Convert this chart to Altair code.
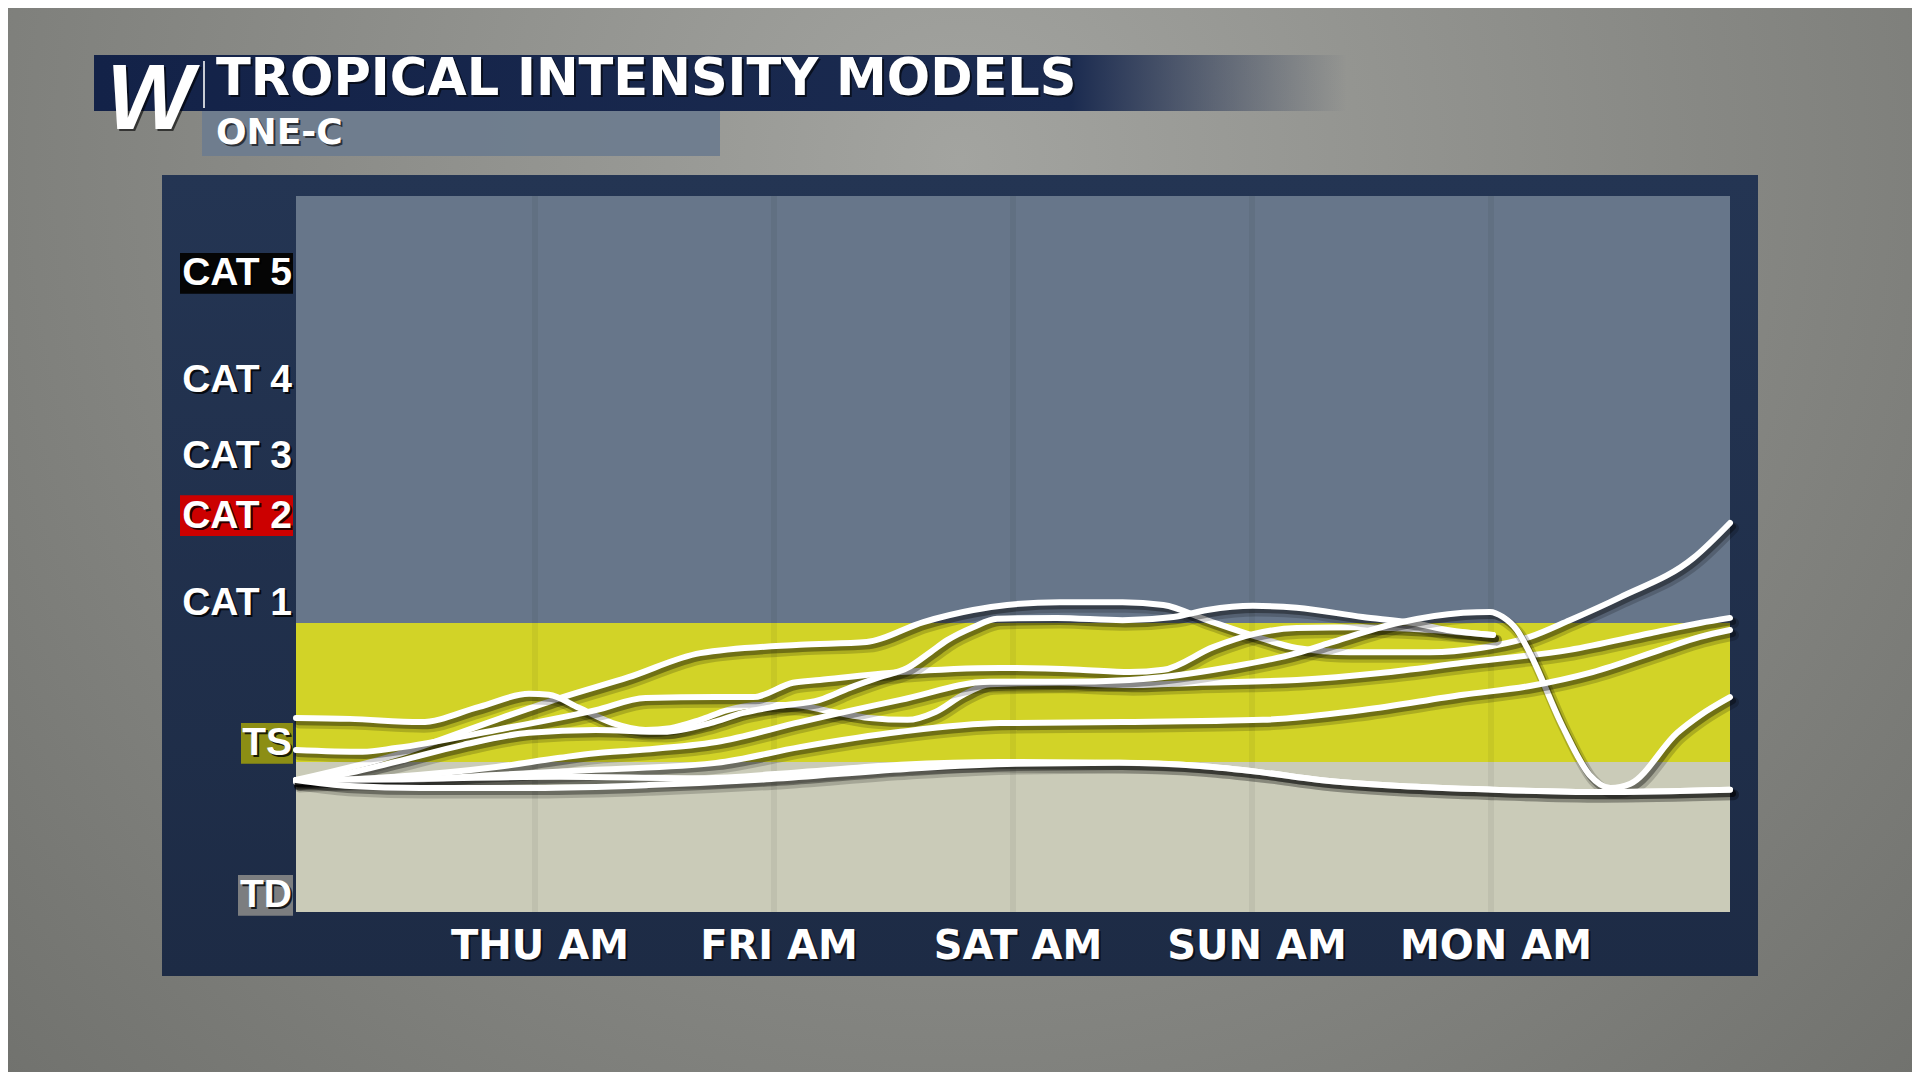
import altair as alt
import pandas as pd

# ---------------- data ----------------
DAY_HOURS = [24, 48, 72, 96, 120]
DAY_LABELS = ["THU AM", "FRI AM", "SAT AM", "SUN AM", "MON AM"]

CAT_LABELS = ["CAT 5", "CAT 4", "CAT 3", "CAT 2", "CAT 1", "TS", "TD"]
CAT_LABEL_KT = [139.5, 116.5, 100.0, 87.2, 68.3, 38.0, 5.2]

BAND_NAMES = ["Hurricane", "Tropical Storm", "Tropical Depression"]
BAND_LOW = [64, 34, 1.6]
BAND_HIGH = [156.2, 64, 34]

M1_H = [0, 10, 20.1, 26.8, 33.4, 40.6, 50.6, 57.3, 63.0, 68.0, 71.4, 76.7, 83.0, 87.1, 91.5, 96.5,
        100.5, 105.8, 113.9, 118.9, 123.9, 127.9, 133.0, 140.3, 144]
M1_KT = [30.1, 35.5, 43.1, 48.0, 52.3, 57.5, 59.3, 59.9, 64.2, 66.8, 67.9, 68.5, 68.5, 67.9, 64.6, 61.0,
         58.6, 57.7, 57.7, 58.6, 61.0, 64.6, 69.6, 78.0, 85.6]

M2_H = [0, 5.4, 12.5, 18.4, 23.4, 25.4, 28.4, 31.8, 35.1, 37.6, 40.6, 43.3, 46.6, 49.9, 53.9, 57.6,
        61.4, 64.2, 67.0, 69.7, 76.7, 83.7, 90.8, 100.5, 108.9, 117.2, 127.9, 136.0, 141.0, 144]
M2_KT = [43.5, 43.3, 42.6, 45.9, 48.7, 48.5, 45.7, 42.4, 40.9, 41.3, 43.1, 45.2, 46.3, 46.3, 44.8, 43.5,
         43.1, 44.8, 48.5, 50.8, 51.1, 50.6, 51.1, 51.7, 53.2, 55.4, 58.2, 61.8, 64.0, 65.1]

M3_H = [0, 6.7, 10.0, 20.1, 30.1, 35.1, 42.2, 45.9, 49.9, 52.6, 60.7, 70.7, 78.7, 83.7, 87.1, 92.1,
        96.1, 100.5, 107.1, 113.9, 120.2]
M3_KT = [36.6, 36.2, 37.0, 40.9, 45.2, 47.8, 48.0, 48.0, 51.1, 51.7, 53.4, 54.3, 53.9, 53.4, 53.9, 58.8,
         61.6, 62.9, 63.1, 62.5, 61.4]

M4_H = [0, 3.3, 10.0, 16.8, 23.4, 30.1, 36.9, 41.6, 44.9, 48.6, 52.6, 55.6, 58.6, 61.4, 63.7, 65.4,
        68.0, 70.4, 76.4, 83.0, 88.1, 91.5, 96.1, 100.5, 107.1, 112.2, 115.6, 120.2]
M4_KT = [30.1, 30.8, 34.0, 37.7, 40.3, 40.9, 40.5, 42.4, 44.6, 46.1, 47.4, 50.0, 52.3, 54.3, 57.7, 60.3,
         63.1, 64.9, 65.1, 64.6, 65.3, 66.8, 67.7, 67.3, 65.3, 64.0, 62.5, 61.4]

M5_H = [0, 10.0, 20.1, 26.5, 30.1, 34.5, 42.2, 50.6, 60.7, 69.7, 76.7, 83.7, 93.8, 100.5, 103.8, 110.6,
        117.2, 119.9, 121.2, 122.6, 123.9, 127.2, 129.9, 132.0, 134.0, 138.7, 141.0, 144]
M5_KT = [29.7, 30.8, 32.9, 34.9, 35.9, 36.6, 38.3, 42.6, 47.4, 51.3, 51.3, 51.7, 54.5, 57.5, 59.7, 64.0,
         66.2, 66.4, 65.3, 62.5, 57.5, 41.6, 31.2, 28.4, 29.3, 40.3, 44.1, 48.0]

M6_H = [0, 10.0, 20.1, 30.1, 42.2, 50.6, 60.7, 70.7, 83.0, 97.1, 107.1, 117.2, 123.9, 130.2, 137.0, 141.0, 144]
M6_KT = [30.1, 30.1, 31.2, 32.3, 33.8, 37.2, 40.5, 42.4, 42.6, 43.1, 45.2, 48.5, 50.4, 53.4, 58.2, 61.0, 62.5]

M7_H = [0, 10.4, 26.5, 40.6, 50.6, 60.7, 70.7, 82.7, 90.8, 96.8, 102.8, 110.9, 120.2, 130.9, 144]
M7_KT = [30.1, 30.3, 30.8, 30.5, 31.8, 33.4, 34.0, 33.8, 33.1, 31.8, 30.1, 28.8, 28.0, 27.5, 28.0]

M8_H = [0, 5.4, 12.5, 24.0, 35.4, 47.7, 61.3, 72.3, 82.7, 90.8, 96.8, 102.8, 110.9, 120.2, 130.9, 144]
M8_KT = [30.1, 28.8, 28.4, 28.4, 29.0, 30.3, 32.5, 33.6, 33.8, 33.1, 31.8, 30.1, 28.8, 28.0, 27.5, 28.0]

MODELS = [("M1", M1_H, M1_KT), ("M2", M2_H, M2_KT), ("M3", M3_H, M3_KT), ("M4", M4_H, M4_KT),
          ("M5", M5_H, M5_KT), ("M6", M6_H, M6_KT), ("M7", M7_H, M7_KT), ("M8", M8_H, M8_KT)]

# ---------------- layout ----------------
W, H = 1434, 716
PAD = {"left": 288, "top": 188, "right": 182, "bottom": 160}

xs = alt.Scale(domain=[0, 144], nice=False, zero=False)
ys = alt.Scale(domain=[1.6, 156.2], nice=False, zero=False)

one = pd.DataFrame({"k": [0]})

def box(x1, x2, y1, y2, color, opacity=1.0):
    return alt.Chart(one).mark_rect(color=color, opacity=opacity).encode(
        x=alt.value(x1), x2=alt.value(x2), y=alt.value(y1), y2=alt.value(y2))

def txt(text, x, y, size, font, color="white", align="left", baseline="alphabetic",
        italic=False, shadow=True):
    layers = []
    style = "italic" if italic else "normal"
    if shadow:
        layers.append(alt.Chart(one).mark_text(
            text=text, font=font, fontSize=size, fontWeight="bold", fontStyle=style,
            color="black", opacity=0.6, align=align, baseline=baseline, dx=2, dy=2
        ).encode(x=alt.value(x), y=alt.value(y)))
    layers.append(alt.Chart(one).mark_text(
        text=text, font=font, fontSize=size, fontWeight="bold", fontStyle=style,
        color=color, align=align, baseline=baseline
    ).encode(x=alt.value(x), y=alt.value(y)))
    return layers

# background with soft radial shading
bg = alt.Chart(one).mark_rect(
    color=alt.Gradient(gradient="radial", x1=0.5, y1=0.3, x2=0.5, y2=0.3, r1=0, r2=0.85,
                       stops=[alt.GradientStop(offset=0, color="#a3a4a0"),
                              alt.GradientStop(offset=1, color="#666763")])
).encode(x=alt.value(-PAD["left"]), x2=alt.value(W + PAD["right"]),
         y=alt.value(-PAD["top"]), y2=alt.value(H + PAD["bottom"]))

panel = alt.Chart(one).mark_rect(
    color=alt.Gradient(gradient="linear", x1=0, y1=0, x2=0, y2=1,
                       stops=[alt.GradientStop(offset=0, color="#243553"),
                              alt.GradientStop(offset=1, color="#1d2b45")])
).encode(x=alt.value(-134), x2=alt.value(1462), y=alt.value(-21), y2=alt.value(780))

title_bar = alt.Chart(one).mark_rect(
    color=alt.Gradient(gradient="linear", x1=0, y1=0, x2=1, y2=0,
                       stops=[alt.GradientStop(offset=0, color="#132248"),
                              alt.GradientStop(offset=0.78, color="#1b2b50"),
                              alt.GradientStop(offset=1, color="rgba(30,45,80,0)")])
).encode(x=alt.value(-202), x2=alt.value(1051), y=alt.value(-141), y2=alt.value(-85))

sub_bar = box(-94, 424, -85, -40, "#6e7c8e", 0.95)
sep = alt.Chart(one).mark_rule(color="#c8ccd4", strokeWidth=2).encode(
    x=alt.value(-92), y=alt.value(-135), y2=alt.value(-88))

# bands
bands = pd.DataFrame({"band": BAND_NAMES, "lo": BAND_LOW, "hi": BAND_HIGH})
band_layer = alt.Chart(bands).mark_rect().encode(
    x=alt.value(0), x2=alt.value(W),
    y=alt.Y("lo:Q", scale=ys, axis=None), y2="hi:Q",
    color=alt.Color("band:N", legend=None,
                    scale=alt.Scale(domain=BAND_NAMES, range=["#67768a", "#d2d327", "#cacbb8"])))

grid = alt.Chart(pd.DataFrame({"hour": DAY_HOURS})).mark_rule(
    color="black", opacity=0.05, strokeWidth=6).encode(
    x=alt.X("hour:Q", scale=xs, axis=None), y=alt.value(0), y2=alt.value(H))

# model lines
rows = []
for name, hs, ks in MODELS:
    for i, (h, k) in enumerate(zip(hs, ks)):
        rows.append({"model": name, "hour": h, "kt": k, "ord": i})
lines_df = pd.DataFrame(rows)

line_layers = []
for name, _, _ in MODELS:
    base = alt.Chart(lines_df).transform_filter(alt.datum.model == name)
    soft = base.transform_calculate(hs="datum.hour + 0.35", ks="datum.kt - 1.1").mark_line(
        color="black", opacity=0.18, strokeWidth=11, interpolate="monotone",
        strokeCap="round", strokeJoin="round").encode(
        x=alt.X("hs:Q", scale=xs, axis=None), y=alt.Y("ks:Q", scale=ys, axis=None),
        order="ord:Q")
    shadow = base.transform_calculate(hs="datum.hour + 0.25", ks="datum.kt - 0.8").mark_line(
        color="black", opacity=0.35, strokeWidth=7, interpolate="monotone",
        strokeCap="round", strokeJoin="round").encode(
        x=alt.X("hs:Q", scale=xs, axis=None), y=alt.Y("ks:Q", scale=ys, axis=None),
        order="ord:Q")
    line = base.mark_line(
        color="white", strokeWidth=6, interpolate="monotone",
        strokeCap="round", strokeJoin="round").encode(
        x=alt.X("hour:Q", scale=xs, axis=None), y=alt.Y("kt:Q", scale=ys, axis=None),
        order="ord:Q")
    line_layers += [soft, shadow, line]

# y category labels
cat_df = pd.DataFrame({"label": CAT_LABELS, "kt": CAT_LABEL_KT})

def label_box(label, x1, color):
    return alt.Chart(cat_df).transform_filter(alt.datum.label == label).transform_calculate(
        top="datum.kt + 4.4", bot="datum.kt - 4.4").mark_rect(color=color).encode(
        x=alt.value(x1), x2=alt.value(-3),
        y=alt.Y("top:Q", scale=ys, axis=None), y2="bot:Q")

boxes = [label_box("CAT 5", -116, "#050505"), label_box("CAT 2", -116, "#cc0000"),
         label_box("TS", -55, "#8c8e14"), label_box("TD", -58, "#7c7e80")]

cat_shadow = alt.Chart(cat_df).mark_text(
    font="Liberation Sans", fontSize=39, fontWeight="bold", color="black", opacity=0.8,
    align="right", baseline="middle", dx=2, dy=2).encode(
    x=alt.value(-4), y=alt.Y("kt:Q", scale=ys, axis=None), text="label:N")
cat_text = alt.Chart(cat_df).mark_text(
    font="Liberation Sans", fontSize=39, fontWeight="bold", color="white",
    align="right", baseline="middle").encode(
    x=alt.value(-4), y=alt.Y("kt:Q", scale=ys, axis=None), text="label:N")

# x day labels
day_df = pd.DataFrame({"hour": DAY_HOURS, "label": DAY_LABELS})
day_shadow = alt.Chart(day_df).mark_text(
    font="DejaVu Sans", fontSize=40, fontWeight="bold", color="black", opacity=0.6,
    align="center", baseline="middle", dx=7, dy=2).encode(
    x=alt.X("hour:Q", scale=xs, axis=None), y=alt.value(751), text="label:N")
day_text = alt.Chart(day_df).mark_text(
    font="DejaVu Sans", fontSize=40, fontWeight="bold", color="white",
    align="center", baseline="middle", dx=5).encode(
    x=alt.X("hour:Q", scale=xs, axis=None), y=alt.value(751), text="label:N")

title_layers = (txt("W", -146, -67, 92, "Liberation Sans", align="center", italic=True)
                + txt("TROPICAL INTENSITY MODELS", -80, -101, 51, "DejaVu Sans")
                + txt("ONE-C", -80, -52, 36, "DejaVu Sans"))

chart = alt.layer(
    bg, panel, title_bar, sub_bar, sep, *title_layers,
    band_layer, grid, *line_layers, *boxes, cat_shadow, cat_text, day_shadow, day_text
).properties(
    width=W, height=H, padding=PAD, autosize=alt.AutoSizeParams(type="none")
).configure(background="#8a8b87").configure_view(strokeWidth=0, fill=None)

chart.save("out.html", embed_options={"renderer": "svg", "actions": False})
